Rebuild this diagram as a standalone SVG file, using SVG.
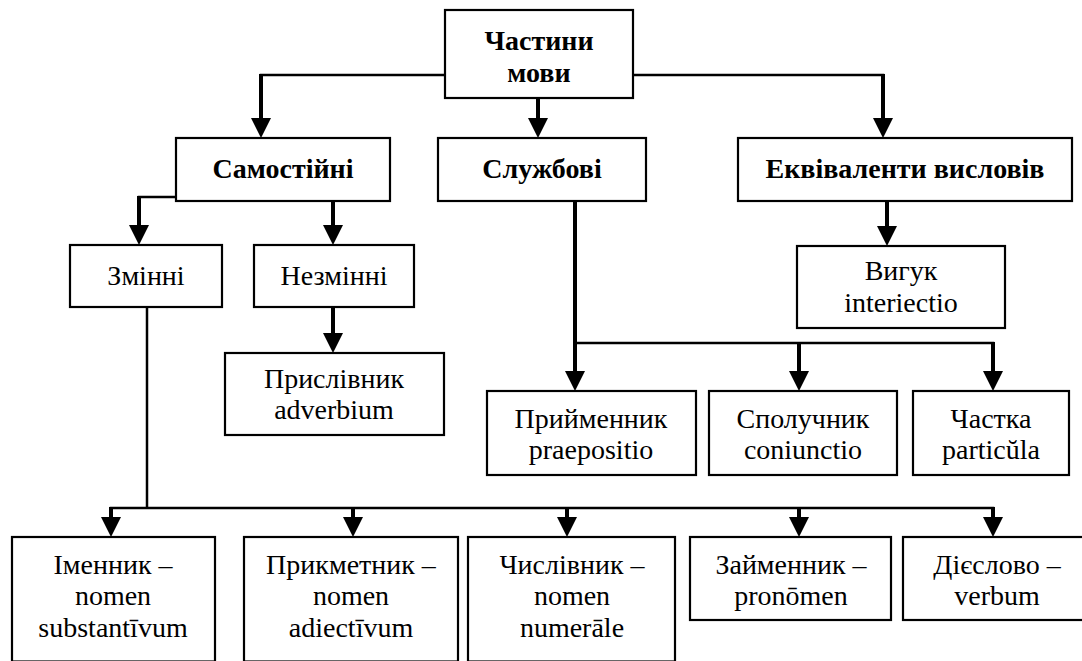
<svg xmlns="http://www.w3.org/2000/svg" width="1082" height="661" viewBox="0 0 1082 661">
<style>
.box{fill:#fff;stroke:#000;stroke-width:2.2}
.thin{stroke:#000;stroke-width:2.5;fill:none}
.thick{stroke:#000;stroke-width:4;fill:none}
.ah{fill:#000}
</style>
<rect width="1082" height="661" fill="#fff"/>
<g id="connectors">
<line class="thin" x1="445" y1="75" x2="259.75" y2="75"/>
<line class="thin" x1="633" y1="75" x2="884.25" y2="75"/>
<line class="thin" x1="176" y1="197" x2="137.75" y2="197"/>
<line class="thin" x1="575" y1="343" x2="994.25" y2="343"/>
<line class="thin" x1="147" y1="307" x2="147" y2="508"/>
<line class="thin" x1="109.75" y1="508" x2="994.25" y2="508"/>
<line class="thick" x1="261" y1="74" x2="261" y2="120"/>
<line class="thick" x1="538" y1="98" x2="538" y2="120"/>
<line class="thick" x1="883" y1="74" x2="883" y2="120"/>
<line class="thick" x1="139" y1="196" x2="139" y2="228"/>
<line class="thick" x1="333" y1="201" x2="333" y2="228"/>
<line class="thick" x1="333" y1="307" x2="333" y2="336"/>
<line class="thick" x1="887" y1="201" x2="887" y2="229"/>
<line class="thick" x1="575" y1="201" x2="575" y2="374"/>
<line class="thick" x1="799" y1="342" x2="799" y2="374"/>
<line class="thick" x1="993" y1="342" x2="993" y2="374"/>
<line class="thick" x1="111" y1="507" x2="111" y2="520"/>
<line class="thick" x1="353" y1="507" x2="353" y2="520"/>
<line class="thick" x1="567" y1="507" x2="567" y2="520"/>
<line class="thick" x1="799" y1="507" x2="799" y2="520"/>
<line class="thick" x1="993" y1="507" x2="993" y2="520"/>
<polygon class="ah" points="251,118 271,118 261,138"/>
<polygon class="ah" points="528,118 548,118 538,138"/>
<polygon class="ah" points="873,118 893,118 883,138"/>
<polygon class="ah" points="129,225 149,225 139,245"/>
<polygon class="ah" points="323,225 343,225 333,245"/>
<polygon class="ah" points="323,333 343,333 333,353"/>
<polygon class="ah" points="877,226 897,226 887,246"/>
<polygon class="ah" points="565,371 585,371 575,391"/>
<polygon class="ah" points="789,371 809,371 799,391"/>
<polygon class="ah" points="983,371 1003,371 993,391"/>
<polygon class="ah" points="101,517 121,517 111,537"/>
<polygon class="ah" points="343,517 363,517 353,537"/>
<polygon class="ah" points="557,517 577,517 567,537"/>
<polygon class="ah" points="789,517 809,517 799,537"/>
<polygon class="ah" points="983,517 1003,517 993,537"/>
</g>
<g id="n-chastyny">
<rect class="box" x="445" y="10" width="188" height="88"/>
<text style="font-family:'Liberation Serif',serif;font-size:28px;font-weight:bold" x="539" y="50" text-anchor="middle">Частини</text>
<text style="font-family:'Liberation Serif',serif;font-size:28px;font-weight:bold" x="539" y="82" text-anchor="middle">мови</text>
</g>
<g id="n-samostiini">
<rect class="box" x="176" y="138" width="214" height="63"/>
<text style="font-family:'Liberation Serif',serif;font-size:28px;font-weight:bold" x="283" y="178" text-anchor="middle">Самостійні</text>
</g>
<g id="n-sluzhbovi">
<rect class="box" x="438" y="138" width="208" height="63"/>
<text style="font-family:'Liberation Serif',serif;font-size:28px;font-weight:bold" x="542" y="178" text-anchor="middle">Службові</text>
</g>
<g id="n-ekvivalenty">
<rect class="box" x="738" y="138" width="334" height="63"/>
<text style="font-family:'Liberation Serif',serif;font-size:28px;font-weight:bold" x="905" y="178" text-anchor="middle">Еквіваленти висловів</text>
</g>
<g id="n-zminni">
<rect class="box" x="70" y="245" width="152" height="62"/>
<text style="font-family:'Liberation Serif',serif;font-size:28px" x="146" y="285" text-anchor="middle">Змінні</text>
</g>
<g id="n-nezminni">
<rect class="box" x="254" y="245" width="160" height="62"/>
<text style="font-family:'Liberation Serif',serif;font-size:28px" x="334" y="285" text-anchor="middle">Незмінні</text>
</g>
<g id="n-vyhuk">
<rect class="box" x="797" y="246" width="208" height="82"/>
<text style="font-family:'Liberation Serif',serif;font-size:28px" x="901" y="280" text-anchor="middle">Вигук</text>
<text style="font-family:'Liberation Serif',serif;font-size:28px" x="901" y="312" text-anchor="middle">interiectio</text>
</g>
<g id="n-pryslivnyk">
<rect class="box" x="225" y="353" width="219" height="82"/>
<text style="font-family:'Liberation Serif',serif;font-size:28px" x="334" y="388" text-anchor="middle">Прислівник</text>
<text style="font-family:'Liberation Serif',serif;font-size:28px" x="334" y="419" text-anchor="middle">adverbium</text>
</g>
<g id="n-pryimennyk">
<rect class="box" x="487" y="391" width="209" height="84"/>
<text style="font-family:'Liberation Serif',serif;font-size:28px" x="591" y="428" text-anchor="middle">Прийменник</text>
<text style="font-family:'Liberation Serif',serif;font-size:28px" x="591" y="459" text-anchor="middle">praepositio</text>
</g>
<g id="n-spoluchnyk">
<rect class="box" x="709" y="391" width="188" height="84"/>
<text style="font-family:'Liberation Serif',serif;font-size:28px" x="803" y="428" text-anchor="middle">Сполучник</text>
<text style="font-family:'Liberation Serif',serif;font-size:28px" x="803" y="459" text-anchor="middle">coniunctio</text>
</g>
<g id="n-chastka">
<rect class="box" x="913" y="391" width="156" height="84"/>
<text style="font-family:'Liberation Serif',serif;font-size:28px" x="991" y="428" text-anchor="middle">Частка</text>
<text style="font-family:'Liberation Serif',serif;font-size:28px" x="991" y="459" text-anchor="middle">particŭla</text>
</g>
<g id="n-imennyk">
<rect class="box" x="12" y="537" width="203" height="124.5"/>
<text style="font-family:'Liberation Serif',serif;font-size:28px" x="113" y="574" text-anchor="middle">Іменник –</text>
<text style="font-family:'Liberation Serif',serif;font-size:28px" x="113" y="605" text-anchor="middle">nomen</text>
<text style="font-family:'Liberation Serif',serif;font-size:28px" x="113" y="637" text-anchor="middle">substantīvum</text>
</g>
<g id="n-prykmetnyk">
<rect class="box" x="244" y="537" width="214" height="124.5"/>
<text style="font-family:'Liberation Serif',serif;font-size:28px" x="351" y="574" text-anchor="middle">Прикметник –</text>
<text style="font-family:'Liberation Serif',serif;font-size:28px" x="351" y="605" text-anchor="middle">nomen</text>
<text style="font-family:'Liberation Serif',serif;font-size:28px" x="351" y="637" text-anchor="middle">adiectīvum</text>
</g>
<g id="n-chyslivnyk">
<rect class="box" x="468" y="537" width="207" height="124.5"/>
<text style="font-family:'Liberation Serif',serif;font-size:28px" x="572" y="574" text-anchor="middle">Числівник –</text>
<text style="font-family:'Liberation Serif',serif;font-size:28px" x="572" y="605" text-anchor="middle">nomen</text>
<text style="font-family:'Liberation Serif',serif;font-size:28px" x="572" y="637" text-anchor="middle">numerāle</text>
</g>
<g id="n-zaimennyk">
<rect class="box" x="690" y="537" width="201" height="83"/>
<text style="font-family:'Liberation Serif',serif;font-size:28px" x="791" y="574" text-anchor="middle">Займенник –</text>
<text style="font-family:'Liberation Serif',serif;font-size:28px" x="791" y="605" text-anchor="middle">pronōmen</text>
</g>
<g id="n-dieslovo">
<rect class="box" x="903" y="537" width="190" height="83"/>
<text style="font-family:'Liberation Serif',serif;font-size:28px" x="997" y="574" text-anchor="middle">Дієслово –</text>
<text style="font-family:'Liberation Serif',serif;font-size:28px" x="997" y="605" text-anchor="middle">verbum</text>
</g>
</svg>
